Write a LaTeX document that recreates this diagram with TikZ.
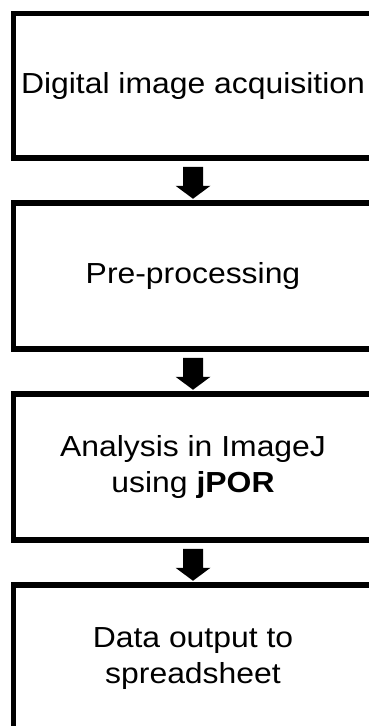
\documentclass[tikz,border=0pt]{standalone}
\usepackage{fontspec}
\setmainfont{Liberation Sans}[FakeStretch=1.1]
\usetikzlibrary{calc}
\newcommand\flowarrow[2]{%
  \fill ($(#1.south)+(-10,6)$) -- ($(#1.south)+(10,6)$) -- ($(#1.south)+(10,25)$)
    -- ($(#1.south)+(17.5,25)$) -- ($(#2.north)+(0,-1.5)$)
    -- ($(#1.south)+(-17.5,25)$) -- ($(#1.south)+(-10,25)$) -- cycle;}
\begin{document}
\begin{tikzpicture}[x=1pt,y=-1pt,
  box/.style={draw, line width=5.5pt, minimum width=359pt, inner sep=0pt,
    align=center, font=\fontsize{29}{36}\selectfont}]
\useasboundingbox (0,0) rectangle (369,726);
\clip (0,0) rectangle (369,726);
\node[box, minimum height=144.5pt] (b1) at (193,85.75) {Digital image acquisition};
\node[box, minimum height=146pt] (b2) at (193,276) {Pre-processing};
\node[box, minimum height=146pt] (b3) at (193,467) {Analysis in ImageJ\\using \textbf{jPOR}};
\node[box, minimum height=148pt] (b4) at (193,659) {Data output to\\spreadsheet};
\flowarrow{b1}{b2}
\flowarrow{b2}{b3}
\flowarrow{b3}{b4}
\end{tikzpicture}
\end{document}
